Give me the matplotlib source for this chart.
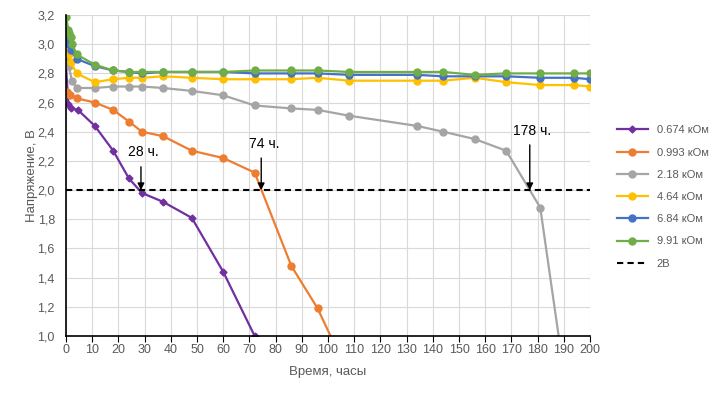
#!/usr/bin/env python3
# -*- coding: utf-8 -*-

import matplotlib
matplotlib.use("Agg")
import matplotlib.pyplot as plt
from matplotlib.ticker import FuncFormatter

# время, часы / напряжение, В
t_0674 = [0, 0.9, 1.8, 4.5, 11, 18, 24, 29, 37, 48, 60, 72]
u_0674 = [2.85, 2.59, 2.56, 2.55, 2.44, 2.27, 2.08, 1.98, 1.92, 1.81, 1.44, 1.00]

t_0993 = [0.3, 1.5, 4, 11, 18, 24, 29, 37, 48, 60, 72, 86, 96, 108]
u_0993 = [2.67, 2.65, 2.63, 2.60, 2.55, 2.47, 2.40, 2.37, 2.27, 2.22, 2.12, 1.48, 1.19, 0.73]

t_218 = [0, 1.1, 2.2, 4, 11, 18, 24, 29, 37, 48, 60, 72, 86, 96, 108, 134, 144, 156, 168, 181, 192]
u_218 = [2.89, 2.85, 2.75, 2.70, 2.70, 2.71, 2.71, 2.71, 2.70, 2.68, 2.65, 2.58, 2.56, 2.55,
         2.51, 2.44, 2.40, 2.35, 2.27, 1.88, 0.50]

t_464 = [0, 1, 1.8, 4, 11, 18, 24, 29, 37, 48, 60, 72, 86, 96, 108, 134, 144, 156, 168, 181, 194, 200]
u_464 = [3.06, 2.93, 2.88, 2.80, 2.74, 2.76, 2.77, 2.77, 2.78, 2.77, 2.76, 2.76, 2.76, 2.77,
         2.75, 2.75, 2.75, 2.77, 2.74, 2.72, 2.72, 2.71]

t_684 = [0, 1, 1.8, 4, 11, 18, 24, 29, 37, 48, 60, 72, 86, 96, 108, 134, 144, 156, 168, 181, 194, 200]
u_684 = [3.05, 3.00, 2.96, 2.90, 2.85, 2.82, 2.81, 2.80, 2.81, 2.81, 2.81, 2.80, 2.80, 2.80,
         2.79, 2.79, 2.78, 2.78, 2.78, 2.77, 2.77, 2.76]

t_991 = [0, 0.9, 1.1, 1.8, 2.2, 4, 11, 18, 24, 29, 37, 48, 60, 72, 86, 96, 108, 134, 144, 156, 168, 181, 194, 200]
u_991 = [3.19, 3.10, 3.08, 3.05, 3.00, 2.93, 2.86, 2.82, 2.81, 2.81, 2.81, 2.81, 2.81, 2.82,
         2.82, 2.82, 2.81, 2.81, 2.81, 2.79, 2.80, 2.80, 2.80, 2.80]

labels = ["0.674 кОм", "0.993 кОм", "2.18 кОм", "4.64 кОм", "6.84 кОм", "9.91 кОм"]
colors = ["#7030A0", "#ED7D31", "#A5A5A5", "#FFC000", "#4472C4", "#70AD47"]

# моменты достижения 2 В
t_cross = [28.6, 74.5, 177]
cross_labels = ["28 ч.", "74 ч.", "178 ч."]
text_v = [2.21, 2.27, 2.36]

plt.rcParams['font.family'] = ['Liberation Sans', 'DejaVu Sans']

fig = plt.figure(figsize=(7.2, 3.96), dpi=100)
ax = fig.add_axes([0.0917, 0.1515, 0.7278, 0.8105])

series = [(t_0674, u_0674), (t_0993, u_0993), (t_218, u_218),
          (t_464, u_464), (t_684, u_684), (t_991, u_991)]
for i, (t, u) in enumerate(series):
    if i == 0:
        ax.plot(t, u, color=colors[i], lw=1.6, marker="D", ms=3.5, label=labels[i])
    else:
        ax.plot(t, u, color=colors[i], lw=1.6, marker="o", ms=5, label=labels[i])

ax.plot([0, 200], [2.0, 2.0], color="black", lw=1.5, ls=(0, (3, 2)), label="2В")

for tc, lab, tv in zip(t_cross, cross_labels, text_v):
    ax.annotate("", xy=(tc, 2.0), xytext=(tc, tv - 0.05),
                arrowprops=dict(arrowstyle="-|>", color="black", lw=1, mutation_scale=10,
                                shrinkA=0, shrinkB=0))
    ax.text(tc + 1, tv, lab, ha="center", va="bottom", fontsize=10, color="black")

ax.set_xlim(0, 200)
ax.set_ylim(1.0, 3.2)
ax.set_xticks(range(0, 201, 10))
ax.set_yticks([1.0 + 0.2 * k for k in range(12)])
ax.yaxis.set_major_formatter(FuncFormatter(lambda v, p: "{:.1f}".format(v).replace(".", ",")))
ax.grid(True, color="#D9D9D9", lw=0.8)
ax.set_axisbelow(True)
for s in ["top", "right"]:
    ax.spines[s].set_visible(False)
ax.spines["left"].set_color("black")
ax.spines["bottom"].set_color("black")
ax.spines["left"].set_linewidth(1.2)
ax.spines["bottom"].set_linewidth(1.2)
ax.tick_params(axis="x", colors="#595959", labelsize=9, length=4, direction="out", pad=2)
ax.tick_params(axis="y", colors="#595959", labelsize=9, length=0, pad=8)
ax.tick_params(axis="x", color="black")

ax.set_xlabel("Время, часы", color="#595959", fontsize=9.5, labelpad=7)
ax.set_ylabel("Напряжение, В", color="#595959", fontsize=9.5, labelpad=0)

ax.legend(loc="center left", bbox_to_anchor=(1.032, 0.433), frameon=False, fontsize=8,
          labelcolor="#595959", handlelength=2.8, labelspacing=1.1)

fig.savefig("out.png", dpi=100)
